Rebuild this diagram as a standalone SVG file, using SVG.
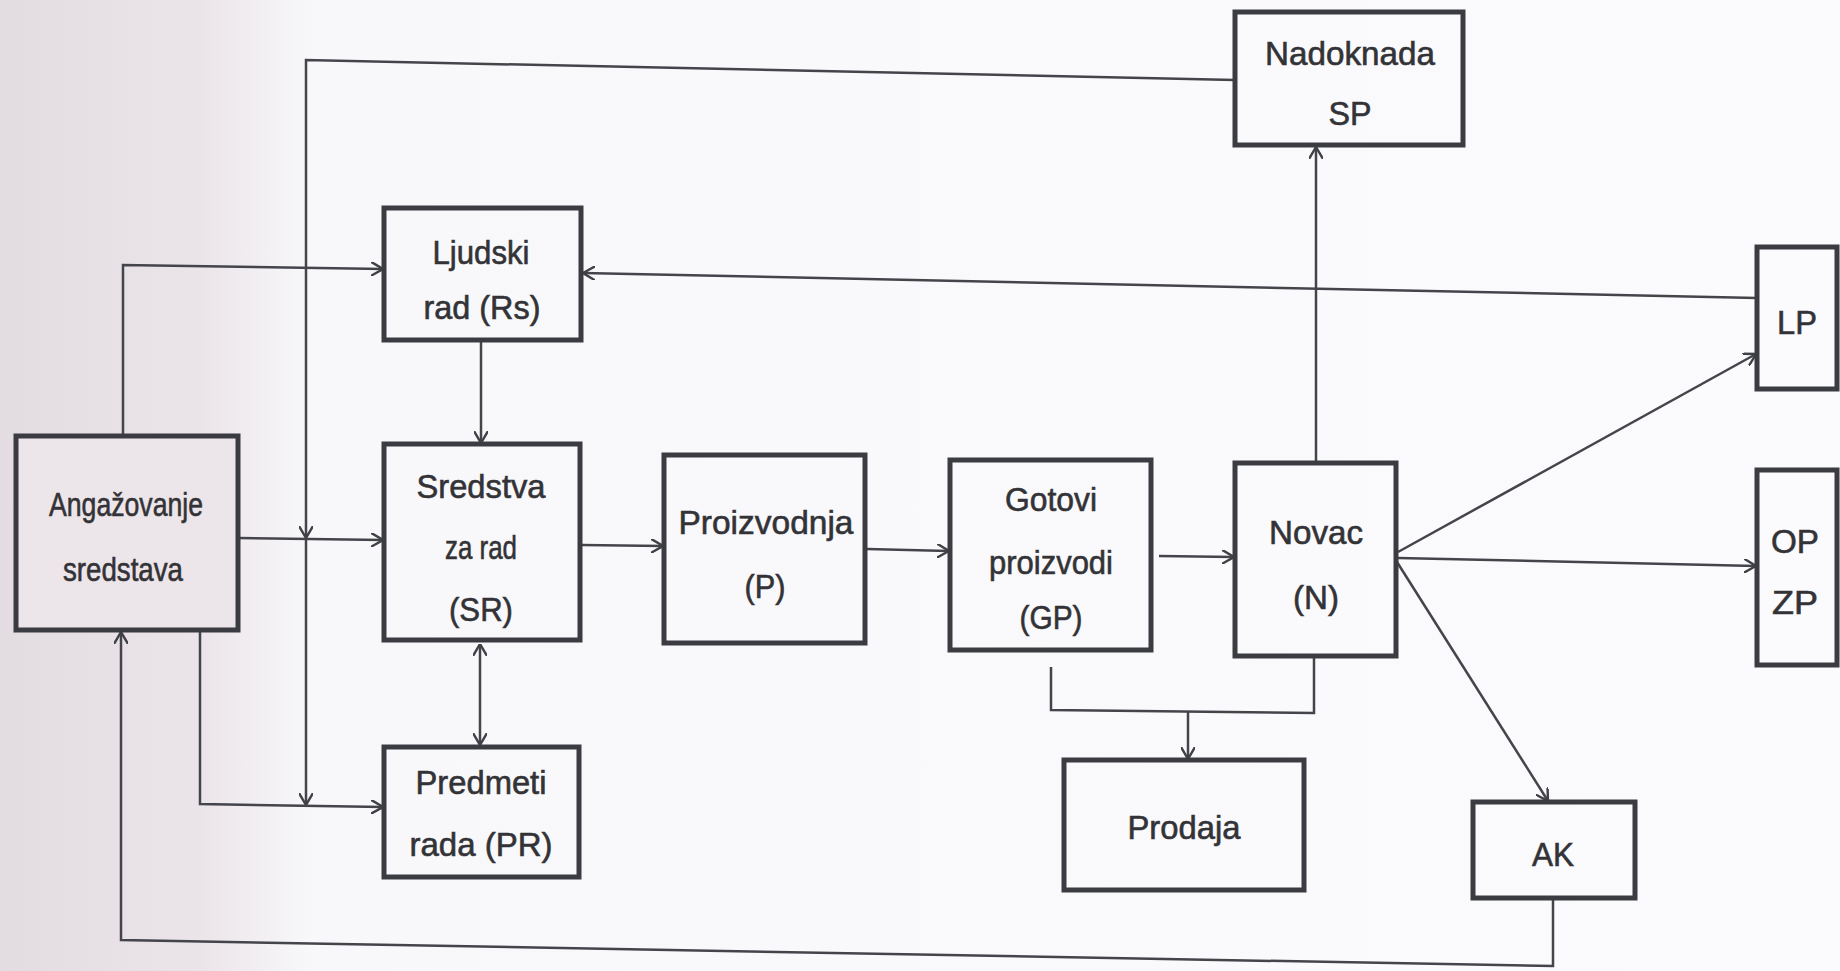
<svg xmlns="http://www.w3.org/2000/svg" width="1840" height="971" viewBox="0 0 1840 971">
<defs>
<linearGradient id="paper" x1="0" y1="0" x2="1" y2="0">
<stop offset="0" stop-color="#e3dce1"/>
<stop offset="0.11" stop-color="#ebe5e9"/>
<stop offset="0.17" stop-color="#f8f8fa"/>
<stop offset="1" stop-color="#fbfbfd"/>
</linearGradient>
<marker id="arr" viewBox="0 0 12 14" refX="12" refY="7" markerWidth="12" markerHeight="14" markerUnits="userSpaceOnUse" orient="auto-start-reverse">
<path d="M0,0 L12,7 L0,14" fill="none" stroke="#404047" stroke-width="2.4"/>
</marker>
<style>
.box{fill:none;stroke:#3b3b42;stroke-width:5}
.boxa{fill:#ece5e9;stroke:#3b3b42;stroke-width:5}
.t{font-family:"Liberation Sans",Arial,sans-serif;font-size:33px;fill:#333337;stroke:#333337;stroke-width:0.6;text-anchor:middle}
.c{fill:none;stroke:#44444b;stroke-width:2.5}
.a{marker-end:url(#arr)}
</style>
</defs>
<rect x="0" y="0" width="1840" height="971" fill="url(#paper)"/>

<g id="connectors">
<path class="c a" d="M1235,80 L306,60 L306,538"/>
<path class="c a" d="M306,538 L306,805"/>
<path class="c a" d="M123,436 L123,265 L383,269"/>
<path class="c a" d="M238,538 L383,540"/>
<path class="c a" d="M200,630 L200,804 L383,807"/>
<path class="c a" d="M481,342 L481,443"/>
<path class="c a" d="M480,745 L480,644" style="marker-start:url(#arr)"/>
<path class="c a" d="M582,545 L663,546"/>
<path class="c a" d="M867,549 L949,551"/>
<path class="c a" d="M1159,556 L1234,557"/>
<path class="c a" d="M1316,463 L1316,147"/>
<path class="c a" d="M1757,298 L583,273"/>
<path class="c a" d="M1398,552 L1756,354"/>
<path class="c a" d="M1398,558 L1756,566"/>
<path class="c a" d="M1397,562 L1548,801"/>
<path class="c" d="M1051,667 L1051,710 L1314,713 L1314,657"/>
<path class="c a" d="M1188,711 L1188,759"/>
<path class="c a" d="M1553,900 L1553,966 L121,940 L121,632"/>
</g>

<g id="nadoknada">
<rect class="box" x="1235" y="12" width="228" height="133"/>
<text class="t" x="1350" y="65" textLength="170" lengthAdjust="spacingAndGlyphs">Nadoknada</text>
<text class="t" x="1350" y="125" textLength="43" lengthAdjust="spacingAndGlyphs">SP</text>
</g>

<g id="ljudski">
<rect class="box" x="384" y="208" width="197" height="132"/>
<text class="t" x="481" y="264" textLength="97" lengthAdjust="spacingAndGlyphs">Ljudski</text>
<text class="t" x="482" y="319" textLength="117" lengthAdjust="spacingAndGlyphs">rad (Rs)</text>
</g>

<g id="angazovanje">
<rect class="boxa" x="16" y="436" width="222" height="194"/>
<text class="t" x="126" y="516" textLength="154" lengthAdjust="spacingAndGlyphs">Angažovanje</text>
<text class="t" x="123" y="581" textLength="120" lengthAdjust="spacingAndGlyphs">sredstava</text>
</g>

<g id="sredstva">
<rect class="box" x="384" y="444" width="196" height="196"/>
<text class="t" x="481" y="498" textLength="129" lengthAdjust="spacingAndGlyphs">Sredstva</text>
<text class="t" x="481" y="559" textLength="72" lengthAdjust="spacingAndGlyphs">za rad</text>
<text class="t" x="481" y="621" textLength="64" lengthAdjust="spacingAndGlyphs">(SR)</text>
</g>

<g id="proizvodnja">
<rect class="box" x="664" y="455" width="201" height="188"/>
<text class="t" x="766" y="534" textLength="175" lengthAdjust="spacingAndGlyphs">Proizvodnja</text>
<text class="t" x="765" y="598" textLength="41" lengthAdjust="spacingAndGlyphs">(P)</text>
</g>

<g id="gotovi">
<rect class="box" x="950" y="460" width="201" height="190"/>
<text class="t" x="1051" y="511" textLength="92" lengthAdjust="spacingAndGlyphs">Gotovi</text>
<text class="t" x="1051" y="574" textLength="124" lengthAdjust="spacingAndGlyphs">proizvodi</text>
<text class="t" x="1051" y="629" textLength="63" lengthAdjust="spacingAndGlyphs">(GP)</text>
</g>

<g id="novac">
<rect class="box" x="1235" y="463" width="161" height="193"/>
<text class="t" x="1316" y="544" textLength="94" lengthAdjust="spacingAndGlyphs">Novac</text>
<text class="t" x="1316" y="609" textLength="46" lengthAdjust="spacingAndGlyphs">(N)</text>
</g>

<g id="lp">
<rect class="box" x="1757" y="247" width="80" height="142"/>
<text class="t" x="1797" y="334" textLength="40" lengthAdjust="spacingAndGlyphs">LP</text>
</g>

<g id="opzp">
<rect class="box" x="1757" y="470" width="80" height="195"/>
<text class="t" x="1795" y="553" textLength="48" lengthAdjust="spacingAndGlyphs">OP</text>
<text class="t" x="1795" y="614" textLength="46" lengthAdjust="spacingAndGlyphs">ZP</text>
</g>

<g id="predmeti">
<rect class="box" x="384" y="747" width="195" height="130"/>
<text class="t" x="481" y="794" textLength="131" lengthAdjust="spacingAndGlyphs">Predmeti</text>
<text class="t" x="481" y="856" textLength="143" lengthAdjust="spacingAndGlyphs">rada (PR)</text>
</g>

<g id="prodaja">
<rect class="box" x="1064" y="760" width="240" height="130"/>
<text class="t" x="1184" y="839" textLength="113" lengthAdjust="spacingAndGlyphs">Prodaja</text>
</g>

<g id="ak">
<rect class="box" x="1473" y="802" width="162" height="96"/>
<text class="t" x="1553" y="866" textLength="42" lengthAdjust="spacingAndGlyphs">AK</text>
</g>
</svg>
